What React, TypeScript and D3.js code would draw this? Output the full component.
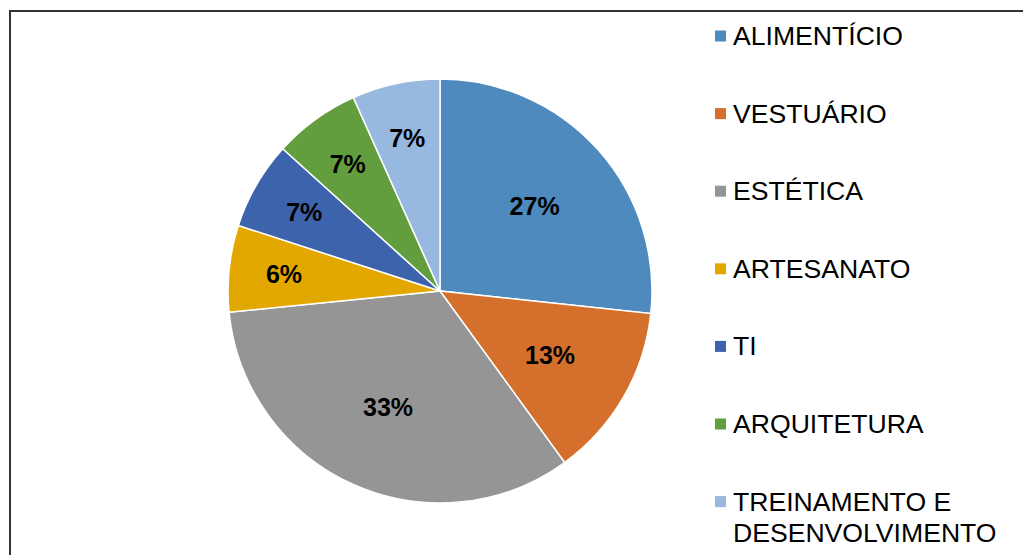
import React from "react";
import * as d3 from "d3";

const categories = [
  "ALIMENTÍCIO",
  "VESTUÁRIO",
  "ESTÉTICA",
  "ARTESANATO",
  "TI",
  "ARQUITETURA",
  "TREINAMENTO E DESENVOLVIMENTO",
];
const values = [26.7, 13.3, 33.4, 6.6, 6.7, 6.6, 6.7];
const valueLabels = ["27%", "13%", "33%", "6%", "7%", "7%", "7%"];
const legendLines = [
  ["ALIMENTÍCIO"],
  ["VESTUÁRIO"],
  ["ESTÉTICA"],
  ["ARTESANATO"],
  ["TI"],
  ["ARQUITETURA"],
  ["TREINAMENTO E", "DESENVOLVIMENTO"],
];
const colors = ["#4E8ABE", "#D56F2C", "#959595", "#E3A800", "#3C63AC", "#629D3E", "#97B9E0"];

export default function App() {
  const W = 1023, H = 555;
  const cx = 440, cy = 291, r = 212;
  const pie = d3.pie<number>().sort(null).value((d) => d)(values);
  const arc = d3.arc<d3.PieArcDatum<number>>().innerRadius(0).outerRadius(r);
  const font = "'Liberation Sans', Arial, sans-serif";
  const legendY = d3.scaleLinear().domain([0, 1]).range([45, 45 + 77.6]);

  return (
    <div style={{ position: "fixed", left: 0, top: 0, width: W, height: H, background: "#fff" }}>
      <svg width={W} height={H} style={{ display: "block" }}>
        <rect x={10} y={11} width={1200} height={800} fill="#fff" stroke="#333" strokeWidth={2} />
        <g transform={`translate(${cx},${cy})`}>
          {pie.map((p, i) => (
            <path key={categories[i]} d={arc(p) || ""} fill={colors[i]} stroke="#fff" strokeWidth={1.5} />
          ))}
          {pie.map((p, i) => {
            const mid = (p.startAngle + p.endAngle) / 2;
            const lr = r * (p.value > 10 ? 0.6 : 0.74);
            const x = Math.sin(mid) * lr;
            const y = -Math.cos(mid) * lr;
            return (
              <text
                key={"l" + i}
                x={x}
                y={y}
                dy="0.36em"
                textAnchor="middle"
                fontFamily={font}
                fontWeight="bold"
                fontSize={25}
                fill="#000"
              >
                {valueLabels[i]}
              </text>
            );
          })}
        </g>
        <g>
          {legendLines.map((lines, i) => {
            const base = legendY(i);
            return (
              <g key={"lg" + i}>
                <rect x={715} y={base - 14.5} width={11} height={11} fill={colors[i]} />
                {lines.map((ln, j) => (
                  <text key={j} x={733} y={base + j * 31.5} fontFamily={font} fontSize={26.6} fill="#000">
                    {ln}
                  </text>
                ))}
              </g>
            );
          })}
        </g>
      </svg>
    </div>
  );
}
